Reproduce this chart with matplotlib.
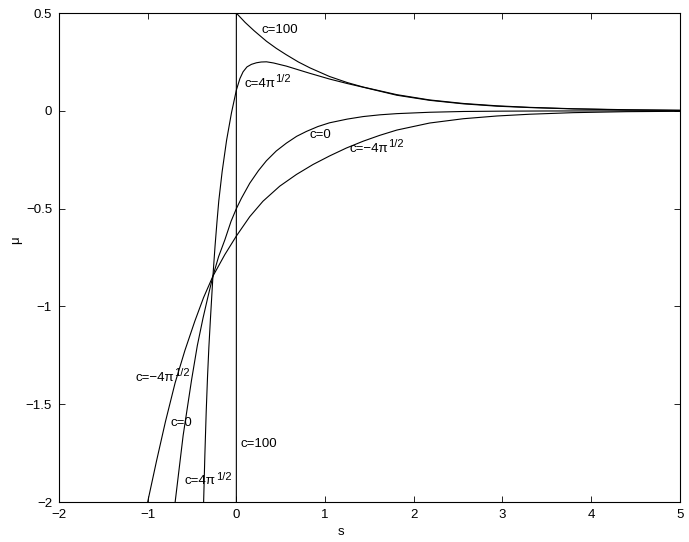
import matplotlib
matplotlib.use('Agg')
import matplotlib.pyplot as plt

plt.rcParams['font.family'] = ['Liberation Sans', 'DejaVu Sans']

# curves, s vs mu
s_c100 = [0.0, 0.0, 0.05, 0.1, 0.2, 0.34, 0.45, 0.56, 0.7, 0.83, 1.05, 1.25, 1.43,
          1.81, 2.18, 2.56, 2.94, 3.31, 3.8, 4.4, 5.0]
mu_c100 = [-2.0, 0.5, 0.476, 0.452, 0.41, 0.356, 0.32, 0.288, 0.25, 0.22, 0.176, 0.145,
           0.122, 0.083, 0.056, 0.038, 0.026, 0.018, 0.011, 0.006, 0.003]

s_c4pi = [-0.369, -0.355, -0.34, -0.325, -0.31, -0.293, -0.264, -0.24, -0.218, -0.198,
          -0.16, -0.11, -0.055, 0.0, 0.04, 0.076, 0.12, 0.17, 0.226, 0.28, 0.34, 0.42,
          0.5, 0.564, 0.7, 0.83, 1.05, 1.25, 1.43, 1.81, 2.18, 2.56, 2.94, 3.31, 3.8,
          4.4, 5.0]
mu_c4pi = [-2.0, -1.76, -1.54, -1.36, -1.21, -1.07, -0.845, -0.69, -0.565, -0.46,
           -0.31, -0.15, -0.01, 0.106, 0.165, 0.2, 0.225, 0.238, 0.246, 0.25, 0.251,
           0.245, 0.236, 0.229, 0.21, 0.192, 0.163, 0.14, 0.121, 0.08, 0.054, 0.036,
           0.024, 0.017, 0.01, 0.005, 0.003]

s_c0 = [-0.69, -0.6, -0.505, -0.44, -0.376, -0.32, -0.264, -0.2, -0.13, -0.06, 0.0,
        0.057, 0.151, 0.25, 0.339, 0.45, 0.564, 0.68, 0.79, 0.92, 1.05, 1.25, 1.43, 1.62,
        1.81, 2.18, 2.56, 3.0, 3.5, 4.2, 5.0]
mu_c0 = [-2.0, -1.66, -1.376, -1.2, -1.06, -0.95, -0.845, -0.745, -0.66, -0.565, -0.5,
         -0.447, -0.37, -0.305, -0.255, -0.205, -0.165, -0.13, -0.105, -0.08, -0.061,
         -0.042, -0.029, -0.02, -0.014, -0.007, -0.003, -0.0013, -0.0005, -0.0001, 0.0]

s_cm4pi = [-1.0, -0.9, -0.8, -0.69, -0.58, -0.468, -0.37, -0.264, -0.13, 0.0, 0.151,
           0.3, 0.489, 0.678, 0.865, 1.053, 1.24, 1.43, 1.617, 1.81, 2.18, 2.56, 2.94,
           3.31, 3.8, 4.4, 5.0]
mu_cm4pi = [-2.0, -1.79, -1.59, -1.39, -1.225, -1.075, -0.955, -0.845, -0.735, -0.64,
            -0.541, -0.462, -0.385, -0.325, -0.274, -0.23, -0.19, -0.155, -0.125,
            -0.098, -0.062, -0.04, -0.026, -0.017, -0.009, -0.004, -0.002]

xticks = [-2, -1, 0, 1, 2, 3, 4, 5]
yticks = [-2, -1.5, -1, -0.5, 0, 0.5]
ytick_labels = ['\u22122', '\u22121.5', '\u22121', '\u22120.5', '0', '0.5']
xtick_labels = ['\u22122', '\u22121', '0', '1', '2', '3', '4', '5']


fig = plt.figure(figsize=(6.89, 5.42), dpi=100)
ax = fig.add_axes([0.0856, 0.0738, 0.901, 0.902])

for s, mu in [(s_c100, mu_c100), (s_c4pi, mu_c4pi), (s_c0, mu_c0), (s_cm4pi, mu_cm4pi)]:
    ax.plot(s, mu, color='black', lw=0.8)

ax.set_xlim(-2, 5)
ax.set_ylim(-2, 0.5)
ax.set_xticks(xticks)
ax.set_xticklabels(xtick_labels)
ax.set_yticks(yticks)
ax.set_yticklabels(ytick_labels)
ax.tick_params(direction='in', length=4, width=0.6, top=True, right=True,
               labelsize=9.5, pad=5)
for sp in ax.spines.values():
    sp.set_linewidth(0.8)

ax.set_xlabel('s', fontsize=9.5)
ax.set_ylabel('\u03bc', fontsize=9.5)
ax.xaxis.set_label_coords(0.454, -0.05)
ax.yaxis.set_label_coords(-0.06, 0.536)


def curve_label(x, y, base, sup=None):
    t = ax.text(x, y, base, ha='left', va='center', fontsize=9.5)
    if sup:
        ax.annotate(sup, xy=(1, 0.88), xycoords=t, ha='left', va='center', fontsize=8)


curve_label(0.283, 0.413, 'c=100')
curve_label(0.087, 0.14, 'c=4\u03c0', '1/2')
curve_label(0.828, -0.124, 'c=0')
curve_label(1.278, -0.195, 'c=\u22124\u03c0', '1/2')
curve_label(-1.134, -1.364, 'c=\u22124\u03c0', '1/2')
curve_label(-0.74, -1.594, 'c=0')
curve_label(-0.582, -1.893, 'c=4\u03c0', '1/2')
curve_label(0.046, -1.703, 'c=100')

fig.savefig('out.png', dpi=100)
